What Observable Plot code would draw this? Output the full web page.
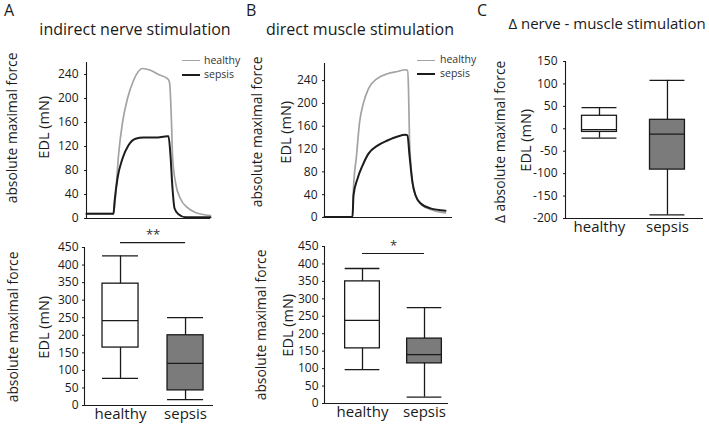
<!DOCTYPE html>
<html><head><meta charset="utf-8">
<script src="https://cdn.jsdelivr.net/npm/d3@7"></script>
<script src="https://cdn.jsdelivr.net/npm/@observablehq/plot@0.6"></script>
<style>
body{margin:0;background:#fff;}
#fig{position:relative;width:709px;height:426px;font-family:"Open Sans",sans-serif;color:#1a1a1a;overflow:hidden;background:#fff;}
#fig svg{position:absolute;}
.t{position:absolute;white-space:nowrap;line-height:1;}
.r{position:absolute;white-space:nowrap;line-height:1;text-align:center;width:200px;transform:rotate(-90deg);transform-origin:50% 50%;}
.lg{position:absolute;height:0;}
</style></head><body><div id="fig"></div>
<script>
// ---------- data ----------
const groups = ["healthy", "sepsis"];

// A: force traces, indirect nerve stimulation (time in arbitrary units, force in mN)
const nerveHealthyT = [0,27,29,32,36,41,47,56,64,72,81,83,85,86,89,94,101,109,124];
const nerveHealthyF = [8,8,38,105,160,200,230,250,247,240,233,227,160,105,60,33,18,10,5];
const nerveSepsisT  = [0,27,28,31,36,42,49,57,69,81,82,84,86,88,92,99,124];
const nerveSepsisF  = [8,8,27,67,100,122,133,135,135,137,137,105,50,17,7,2,2];
const nerveTicks = [0,40,80,120,160,200,240];

// B: force traces, direct muscle stimulation
const muscleHealthyT = [0,28,29,32,35,39,44,53,63,73,81,83,84,85,88,91,98,106,121];
const muscleHealthyF = [1,1,51,108,166,201,226,244,252,256,259,258,226,138,61,39,21,14,8];
const muscleSepsisT  = [0,28,29,33,38,44,53,63,73,81,83,85,88,91,96,106,121];
const muscleSepsisF  = [1,1,39,68,91,112,126,135,142,145,144,109,61,39,25,16,12];
const muscleTicks = [0,40,80,120,160,200,240];

// box plots: [healthy, sepsis]
const nerveMin = [77, 17], nerveQ1 = [165, 43], nerveMed = [242, 120], nerveQ3 = [347, 200], nerveMax = [426, 250];
const muscleMin = [97, 18], muscleQ1 = [158, 115], muscleMed = [238, 140], muscleQ3 = [350, 186], muscleMax = [387, 275];
const deltaMin = [-21, -192], deltaQ1 = [-7, -91], deltaMed = [-2, -12], deltaQ3 = [29, 20], deltaMax = [47, 108];
const boxTicks = [0,50,100,150,200,250,300,350,400,450];
const deltaTicks = [-200,-150,-100,-50,0,50,100,150];
const sigNerve = "**", sigMuscle = "*";

// ---------- helpers ----------
const fig = document.getElementById("fig");
const INK = "#1a1a1a";
const lineColors = {healthy: "#a3a3a3", sepsis: "#1c1c1c"};
function place(svg, left, top) {
  svg.style.left = left + "px"; svg.style.top = top + "px"; svg.style.background = "transparent";
  fig.appendChild(svg);
}
function txt(s, x, baseline, fs, anchor = "start") {
  const d = document.createElement("div");
  d.className = "t"; d.textContent = s; d.style.fontSize = fs + "px";
  d.style.top = (baseline - 0.888 * fs) + "px";
  d.style.left = x + "px";
  if (anchor === "middle") d.style.transform = "translateX(-50%)";
  fig.appendChild(d);
}
function rtxt(s, cx, cy, fs) {
  const d = document.createElement("div");
  d.className = "r"; d.textContent = s; d.style.fontSize = fs + "px";
  d.style.left = (cx - 2 - 100) + "px"; d.style.top = (cy - fs / 2) + "px"; d.style.height = fs + "px";
  fig.appendChild(d);
}
function legend(x1, x2, tx, y1, y2) {
  [["healthy", y1], ["sepsis", y2]].forEach(([g, y]) => {
    const l = document.createElement("div");
    l.className = "lg";
    l.style.left = x1 + "px"; l.style.width = (x2 - x1) + "px";
    const w = g === "healthy" ? 1.6 : 2.2;
    l.style.top = (y - w / 2) + "px"; l.style.borderTop = w + "px solid " + lineColors[g];
    fig.appendChild(l);
    const t = document.createElement("div");
    t.className = "t"; t.textContent = g; t.style.fontSize = "10.5px";
    t.style.left = tx + "px"; t.style.top = (y - 6.2) + "px";
    t.style.color = "#333";
    fig.appendChild(t);
  });
}

function tracePlot(o) {
  const rows = [
    ...o.hT.map((t, i) => ({t, f: o.hF[i], g: "healthy"})),
    ...o.sT.map((t, i) => ({t, f: o.sF[i], g: "sepsis"}))
  ];
  return Plot.plot({
    width: o.w, height: o.h,
    marginLeft: o.ml, marginRight: o.mr, marginTop: o.mt, marginBottom: o.mb,
    x: {domain: [0, o.xMax], axis: null},
    y: {domain: [0, o.yMax]},
    style: {fontFamily: "Open Sans", color: INK, background: "transparent"},
    marks: [
      Plot.axisY({ticks: o.ticks, tickSize: 2, tickPadding: o.pad, fontSize: 12, label: null, tickFormat: d => String(d)}),
      Plot.line(rows.filter(d => d.g === "healthy"), {x: "t", y: "f", stroke: lineColors.healthy, strokeWidth: 1.7, curve: "monotone-x"}),
      Plot.line(rows.filter(d => d.g === "sepsis"), {x: "t", y: "f", stroke: lineColors.sepsis, strokeWidth: 2, curve: "monotone-x"}),
      Plot.ruleX([0], {stroke: INK, strokeWidth: 1.1}),
      Plot.ruleY([0], {stroke: INK, strokeWidth: 1.1})
    ]
  });
}

function boxPlot(o) {
  const rows = groups.map((g, i) => ({i, g, min: o.min[i], q1: o.q1[i], med: o.med[i], q3: o.q3[i], max: o.max[i]}));
  const hw = o.hw;
  const marks = [
    Plot.axisY({ticks: o.ticks, tickSize: 2, tickPadding: o.pad, fontSize: 12, label: null, tickFormat: d => String(d)}),
    Plot.axisX({ticks: [0, 1], tickFormat: i => groups[i], tickSize: 0, tickPadding: 3, fontSize: 15, label: null}),
    Plot.ruleX(rows, {x: "i", y1: "min", y2: "max", stroke: INK, strokeWidth: 1.3}),
    Plot.rect(rows, {x1: d => d.i - hw, x2: d => d.i + hw, y1: "q1", y2: "q3", fill: "g", stroke: INK, strokeWidth: 1.3}),
    Plot.ruleY(rows, {x1: d => d.i - hw, x2: d => d.i + hw, y: "med", stroke: INK, strokeWidth: 1.3}),
    Plot.ruleY(rows, {x1: d => d.i - hw, x2: d => d.i + hw, y: "min", stroke: INK, strokeWidth: 1.3}),
    Plot.ruleY(rows, {x1: d => d.i - hw, x2: d => d.i + hw, y: "max", stroke: INK, strokeWidth: 1.3}),
    Plot.ruleX([o.xDomain[0]], {stroke: INK, strokeWidth: 1.1}),
    Plot.ruleY([o.yDomain[0]], {stroke: INK, strokeWidth: 1.1})
  ];
  if (o.sig) {
    marks.push(Plot.ruleY([o.sigY], {x1: 0, x2: groups.length - 1, stroke: INK, strokeWidth: 1.2}));
    marks.push(Plot.text([o.sig], {x: (groups.length - 1) / 2, y: o.sigY, text: d => d, dy: -8, fontSize: 13, lineAnchor: "middle", fill: "#333"}));
  }
  return Plot.plot({
    width: o.w, height: o.h,
    marginLeft: o.ml, marginRight: o.mr, marginTop: o.mt, marginBottom: o.mb,
    x: {type: "linear", domain: o.xDomain},
    y: {domain: o.yDomain},
    color: {domain: groups, range: ["#ffffff", "#7b7b7b"]},
    style: {fontFamily: "Open Sans", color: INK, background: "transparent"},
    marks
  });
}

// ---------- panels ----------
place(tracePlot({hT: nerveHealthyT, hF: nerveHealthyF, sT: nerveSepsisT, sF: nerveSepsisF,
  xMax: 124, yMax: 260, ticks: nerveTicks, w: 230, h: 190, ml: 86, mr: 20, mt: 22, mb: 12, pad: 6}), 0, 40);
place(tracePlot({hT: muscleHealthyT, hF: muscleHealthyF, sT: muscleSepsisT, sF: muscleSepsisF,
  xMax: 128, yMax: 270, ticks: muscleTicks, w: 230, h: 190, ml: 84, mr: 18, mt: 23, mb: 13, pad: 5}), 240, 40);

place(boxPlot({min: nerveMin, q1: nerveQ1, med: nerveMed, q3: nerveQ3, max: nerveMax,
  yDomain: [0, 450], ticks: boxTicks, xDomain: [-0.554, 1.43], hw: 0.277,
  w: 230, h: 206, ml: 84, mr: 17, mt: 27, mb: 21, pad: 4, sig: sigNerve, sigY: 464}), 0, 220);
place(boxPlot({min: muscleMin, q1: muscleQ1, med: muscleMed, q3: muscleQ3, max: muscleMax,
  yDomain: [0, 450], ticks: boxTicks, xDomain: [-0.613, 1.387], hw: 0.28,
  w: 230, h: 206, ml: 84, mr: 22, mt: 26, mb: 23, pad: 4, sig: sigMuscle, sigY: 430}), 240, 220);
place(boxPlot({min: deltaMin, q1: deltaQ1, med: deltaMed, q3: deltaQ3, max: deltaMax,
  yDomain: [-200, 150], ticks: deltaTicks, xDomain: [-0.5, 1.53], hw: 0.257,
  w: 239, h: 200, ml: 95, mr: 6, mt: 21, mb: 22, pad: 6}), 470, 40);

// ---------- texts ----------
txt("A", 4, 16, 16); txt("B", 246, 16, 16); txt("C", 477, 16, 16);
txt("indirect nerve stimulation", 135, 35, 16, "middle");
txt("direct muscle stimulation", 360, 35, 16, "middle");
txt("\u0394 nerve - muscle stimulation", 607, 29, 15, "middle");

const YL = "absolute maximal force", YU = "EDL (mN)";
rtxt(YL, 14, 128, 13.8); rtxt(YU, 46, 127, 14.5);
rtxt(YL, 15, 327, 13.8); rtxt(YU, 46, 327, 14.5);
rtxt(YL, 259, 132, 13.8); rtxt(YU, 288, 132, 14.5);
rtxt(YL, 263, 325, 13.8); rtxt(YU, 290, 325, 14.5);
rtxt("\u0394 " + YL, 502, 142, 13.8); rtxt(YU, 528, 140, 14.5);

legend(182, 200, 204, 61, 75);
legend(417, 435, 440, 60.5, 74.5);
</script></body></html>
